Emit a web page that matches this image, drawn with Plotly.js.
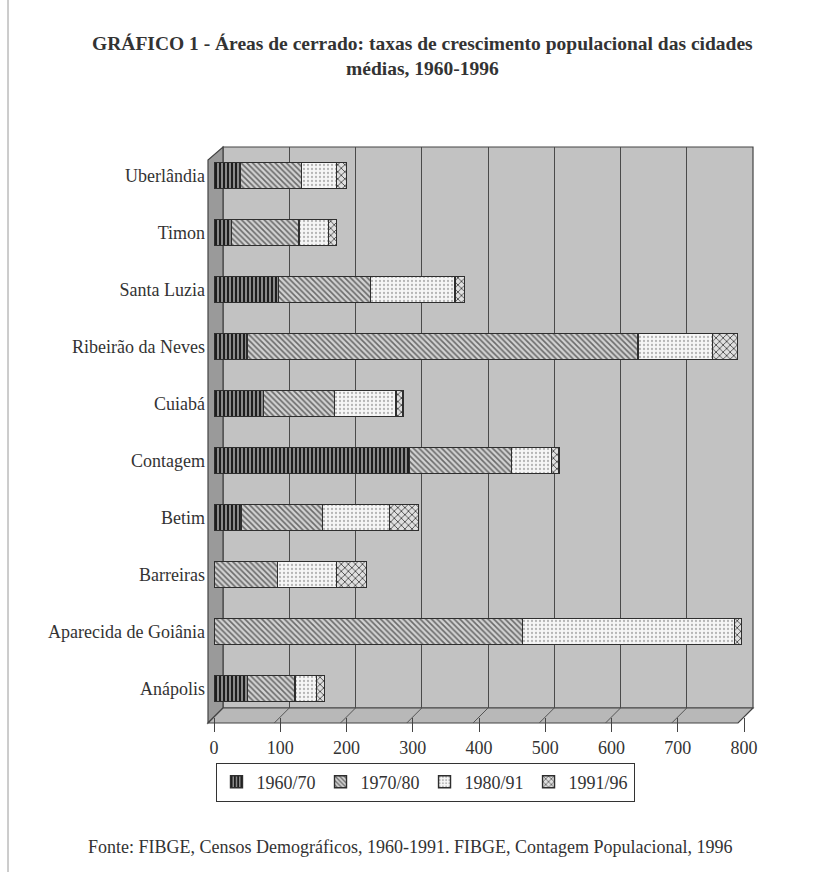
<!DOCTYPE html>
<html>
<head>
<meta charset="utf-8">
<script src="https://cdn.plot.ly/plotly-3.0.1.min.js"></script>
<style>html,body{margin:0;padding:0;background:#fff;}</style>
</head>
<body>
<div id="chart" style="width:817px;height:872px;"></div>
<script>
// ---- data ----
const cities = ['Anápolis','Aparecida de Goiânia','Barreiras','Betim','Contagem','Cuiabá','Ribeirão da Neves','Santa Luzia','Timon','Uberlândia'];
const p1960_70 = [51, 0, 0, 41, 295, 75, 50, 97, 26, 39];
const p1970_80 = [71, 466, 96, 123, 154, 107, 590, 139, 102, 93];
const p1980_91 = [33, 320, 89, 101, 60, 93, 112, 128, 45, 53];
const p1991_96 = [12, 10, 45, 44, 12, 10, 38, 14, 12, 15];
const seriesNames = ['1960/70','1970/80','1980/91','1991/96'];
const xTicks = [0,100,200,300,400,500,600,700,800];

const FONT = 'Liberation Serif, serif';
const ink = '#333';

const styles = [
  {color:'#5a5a5a', pattern:{shape:'|', bgcolor:'#8a8a8a', fgcolor:'#1e1e1e', size:4, solidity:0.5}},
  {color:'#bdbdbd', pattern:{shape:'\\', bgcolor:'#d2d2d2', fgcolor:'#6a6a6a', size:4, solidity:0.4}},
  {color:'#f2f2f2', pattern:{shape:'.', bgcolor:'#f6f6f6', fgcolor:'#b5b5b5', size:4, solidity:0.25}},
  {color:'#cfcfcf', pattern:{shape:'x', bgcolor:'#e0e0e0', fgcolor:'#3e3e3e', size:5, solidity:0.3}}
];
const values = [p1960_70, p1970_80, p1980_91, p1991_96];

// pixel helpers for decorative 3D frame (paper coords)
const PL = 208, PR = 753, PT = 147, PB = 723;
const W = PR - PL, H = PB - PT;
const px = x => (x - PL) / W;
const py = y => (PB - y) / H;

// invisible helper so the back-wall grid subplot (x/y) exists; drawn first (below bars)
const gridHelper = {
  type:'scatter', mode:'markers', x: xTicks, y: xTicks.map(() => 0),
  xaxis:'x', yaxis:'y', marker:{opacity:0}, showlegend:false, hoverinfo:'skip'
};

const traces = [gridHelper].concat(values.map((v, i) => ({
  type:'bar', orientation:'h', name: seriesNames[i],
  y: cities, x: v, xaxis:'x2', yaxis:'y2',
  marker:{color: styles[i].color, pattern: styles[i].pattern, line:{color:'#2e2e2e', width:1.4}},
  hoverinfo:'x+name'
})));

// floor perspective lines from back-wall grid to front ticks
const unit = 530 / 800;
const floorLines = xTicks.slice(1, -1).map(t => ({
  type:'line', xref:'paper', yref:'paper', layer:'below',
  x0: px(223 + t*unit), y0: py(708), x1: px(208 + t*unit), y1: py(723),
  line:{color:'#555', width:1}
}));

const shapes = [
  // back wall
  {type:'rect', xref:'paper', yref:'paper', x0:px(223), x1:px(753), y0:py(708), y1:py(147),
   fillcolor:'#c2c2c2', line:{color:'#444', width:1.2}, layer:'below'},
  // left wall
  {type:'path', xref:'paper', yref:'paper', layer:'below',
   path:`M ${px(208)},${py(723)} L ${px(208)},${py(160)} L ${px(223)},${py(147)} L ${px(223)},${py(708)} Z`,
   fillcolor:'#9a9a9a', line:{color:'#444', width:1.2}},
  // floor
  {type:'path', xref:'paper', yref:'paper', layer:'below',
   path:`M ${px(208)},${py(723)} L ${px(223)},${py(708)} L ${px(753)},${py(708)} L ${px(738)},${py(723)} Z`,
   fillcolor:'#b8b8b8', line:{color:'#444', width:1.2}},
  // page border line at left
  {type:'line', xref:'paper', yref:'paper', x0:px(8), x1:px(8), y0:py(872), y1:py(0),
   line:{color:'#9a9a9a', width:1}}
].concat(floorLines);

const layout = {
  width:817, height:872,
  margin:{l:PL, r:817-PR, t:PT, b:872-PB, pad:0},
  paper_bgcolor:'#fff', plot_bgcolor:'rgba(0,0,0,0)',
  barmode:'stack', bargap:0.55,
  showlegend:true,
  font:{family:FONT, size:17, color:ink},
  title:{
    text:'<b>GRÁFICO 1 - Áreas de cerrado: taxas de crescimento populacional das cidades<br>médias, 1960-1996</b>',
    font:{family:FONT, size:19.5, color:ink},
    x:0.517, xref:'container', xanchor:'center',
    y:1 - 50/872, yref:'container', yanchor:'top'
  },
  // back-wall grid axes
  xaxis:{
    domain:[px(223), px(753)], anchor:'y', range:[0,800],
    tickvals:xTicks, showgrid:true, gridcolor:'#4a4a4a', gridwidth:1,
    showticklabels:false, ticks:'', zeroline:false, showline:false, fixedrange:true
  },
  yaxis:{
    domain:[py(708), 1], anchor:'x', range:[0,1],
    showgrid:false, showticklabels:false, ticks:'', zeroline:false, showline:false, fixedrange:true
  },
  // bar axes
  xaxis2:{
    domain:[px(214), px(744)], anchor:'y2', range:[0,800],
    tickvals:xTicks, ticktext:xTicks.map(String),
    showgrid:false, zeroline:false, showline:false,
    ticks:'outside', ticklen:14, tickcolor:'#444', tickwidth:1,
    tickfont:{family:FONT, size:18, color:ink}, fixedrange:true
  },
  yaxis2:{
    domain:[py(717), 1], anchor:'x2', type:'category',
    categoryorder:'array', categoryarray:cities,
    showgrid:false, zeroline:false, showline:false, ticks:'',
    ticklabelstandoff:8,
    tickfont:{family:FONT, size:18, color:ink}, fixedrange:true
  },
  legend:{
    orientation:'h', traceorder:'normal',
    x:px(425), xanchor:'center', y:py(782), yanchor:'middle',
    bordercolor:'#333', borderwidth:1, bgcolor:'#fff',
    font:{family:FONT, size:18, color:ink},
    itemwidth:30, itemclick:false, itemdoubleclick:false
  },
  annotations:[
    {text:'Fonte: FIBGE, Censos Demográficos, 1960-1991. FIBGE, Contagem Populacional, 1996',
     xref:'paper', yref:'paper', x:px(410), y:py(847), xanchor:'center', yanchor:'middle',
     showarrow:false, font:{family:FONT, size:18, color:ink}}
  ],
  shapes: shapes
};

Plotly.newPlot('chart', traces, layout, {displayModeBar:false, staticPlot:true});
</script>
</body>
</html>
